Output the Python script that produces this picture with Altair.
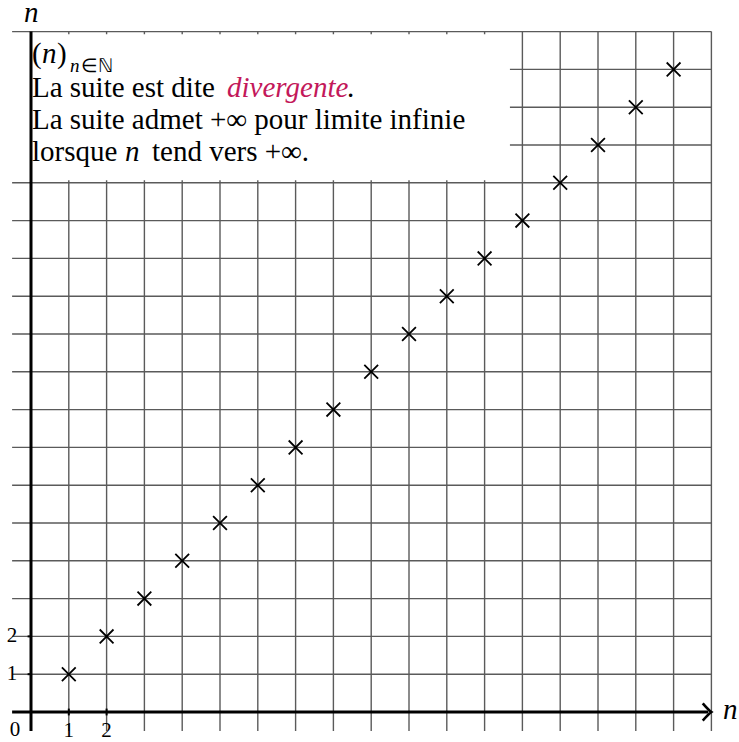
import altair as alt
import pandas as pd

# Terms of the sequence u_n = n
n_values = [1, 2, 3, 4, 5, 6, 7, 8, 9, 10, 11, 12, 13, 14, 15, 16, 17]
u_values = [1, 2, 3, 4, 5, 6, 7, 8, 9, 10, 11, 12, 13, 14, 15, 16, 17]

# Grid lines and graduated ticks
grid_cols = list(range(1, 19))
grid_rows = list(range(1, 19))
tick_values = [1, 2]
tick_labels = ["1", "2"]

# Geometry of the figure (one grid unit in pixels, origin offset)
W, H = 739, 742
UNIT = 37.8
OX, OY = 31, 712
X_MIN, X_MAX = -OX / UNIT, (W - OX) / UNIT
Y_MIN, Y_MAX = (OY - H) / UNIT, OY / UNIT
GRID_LO, GRID_HI = -0.5, 18

SERIF = "Liberation Serif"
TXT = 29
TICK_TXT = 21
GRID_COLOR = "#5a5a5a"
ACCENT = "#c3185a"


def gx(px):
    return (px - OX) / UNIT


def gy(py):
    return (OY - py) / UNIT


xs = alt.Scale(domain=[X_MIN, X_MAX], nice=False, zero=False)
ys = alt.Scale(domain=[Y_MIN, Y_MAX], nice=False, zero=False)


def X(field="x"):
    return alt.X(f"{field}:Q", scale=xs, axis=None)


def Y(field="y"):
    return alt.Y(f"{field}:Q", scale=ys, axis=None)


# --- grid -----------------------------------------------------------------
vgrid = pd.DataFrame({"x": grid_cols, "y": GRID_LO, "y2": GRID_HI})
hgrid = pd.DataFrame({"y": grid_rows, "x": GRID_LO, "x2": GRID_HI})

vlines = alt.Chart(vgrid).mark_rule(color=GRID_COLOR, strokeWidth=1.4).encode(
    x=X(), y=Y(), y2="y2:Q")
hlines = alt.Chart(hgrid).mark_rule(color=GRID_COLOR, strokeWidth=1.4).encode(
    y=Y(), x=X(), x2="x2:Q")

# --- white caption panel over the upper-left part of the grid --------------
panel = alt.Chart(pd.DataFrame({
    "x": [-0.6], "x2": [12.67], "y": [14.07], "y2": [17.93]
})).mark_rect(color="white").encode(x=X(), x2="x2:Q", y=Y(), y2="y2:Q")

# --- axes -------------------------------------------------------------------
axes_df = pd.DataFrame({
    "x": [GRID_LO, 0], "x2": [GRID_HI - 0.08, 0],
    "y": [0, GRID_LO], "y2": [0, GRID_HI],
})
axes = alt.Chart(axes_df).mark_rule(color="black", strokeWidth=3).encode(
    x=X(), x2="x2:Q", y=Y(), y2="y2:Q")

arrow = alt.Chart(pd.DataFrame({"x": [GRID_HI], "y": [0]})).mark_point(
    shape="M -1 -1 Q -0.35 -0.25 0 0 Q -0.35 0.25 -1 1",
    filled=False, stroke="black", strokeWidth=2.6, size=300, opacity=1,
).encode(x=X(), y=Y())

xticks = alt.Chart(pd.DataFrame({"x": tick_values, "y": 0.09, "y2": -0.09})).mark_rule(
    color="black", strokeWidth=2).encode(x=X(), y=Y(), y2="y2:Q")
yticks = alt.Chart(pd.DataFrame({"y": tick_values, "x": -0.09, "x2": 0})).mark_rule(
    color="black", strokeWidth=2).encode(y=Y(), x=X(), x2="x2:Q")

xlab = alt.Chart(pd.DataFrame({"x": tick_values, "label": tick_labels})).mark_text(
    font=SERIF, fontSize=TICK_TXT, baseline="alphabetic", align="center", color="black"
).encode(x=X(), y=alt.value(737), text="label:N")
ylab = alt.Chart(pd.DataFrame({"y": tick_values, "label": tick_labels})).mark_text(
    font=SERIF, fontSize=TICK_TXT, baseline="middle", align="center", color="black"
).encode(x=alt.value(12), y=Y(), text="label:N")
zero_lab = alt.Chart(pd.DataFrame({"label": ["0"]})).mark_text(
    font=SERIF, fontSize=TICK_TXT, baseline="alphabetic", align="center", color="black"
).encode(x=alt.value(15), y=alt.value(736), text="label:N")

axis_names = alt.Chart(pd.DataFrame({
    "x": [gx(24), gx(723)], "y": [gy(22), gy(719)], "label": ["n", "n"]
})).mark_text(font=SERIF, fontSize=TXT, fontStyle="italic", align="left",
              baseline="alphabetic", color="black").encode(x=X(), y=Y(), text="label:N")

# --- terms of the sequence ------------------------------------------------
terms = alt.Chart(pd.DataFrame({"n": n_values, "u": u_values})).mark_point(
    shape="M -1 -1 L 1 1 M -1 1 L 1 -1", filled=False, stroke="black",
    strokeWidth=1.8, size=190, opacity=1,
).encode(x=X("n"), y=Y("u"))

# --- caption text -----------------------------------------------------------
roman = pd.DataFrame({
    "x": [gx(32), gx(57), gx(32), gx(347), gx(32), gx(32), gx(152)],
    "y": [gy(63), gy(63), gy(97), gy(97), gy(129), gy(161), gy(161)],
    "label": ["(", ")", "La suite est dite", ".",
              "La suite admet +∞ pour limite infinie", "lorsque", "tend vers +∞."],
})
italic = pd.DataFrame({
    "x": [gx(42), gx(227), gx(125)],
    "y": [gy(63), gy(97), gy(161)],
    "label": ["n", "divergente", "n"],
    "color": ["black", ACCENT, "black"],
})
sub_italic = pd.DataFrame({"x": [gx(70)], "y": [gy(72)], "label": ["n"]})
sub_roman = pd.DataFrame({"x": [gx(81)], "y": [gy(72)], "label": ["∈ℕ"]})

roman_txt = alt.Chart(roman).mark_text(
    font=SERIF, fontSize=TXT, align="left", baseline="alphabetic", color="black"
).encode(x=X(), y=Y(), text="label:N")
italic_txt = alt.Chart(italic).mark_text(
    font=SERIF, fontSize=TXT, fontStyle="italic", align="left", baseline="alphabetic"
).encode(x=X(), y=Y(), text="label:N", color=alt.Color("color:N", scale=None))
sub_i = alt.Chart(sub_italic).mark_text(
    font=SERIF, fontSize=19, fontStyle="italic", align="left", baseline="alphabetic",
    color="black").encode(x=X(), y=Y(), text="label:N")
sub_r = alt.Chart(sub_roman).mark_text(
    font=SERIF, fontSize=19, align="left", baseline="alphabetic",
    color="black").encode(x=X(), y=Y(), text="label:N")

chart = alt.layer(
    vlines, hlines, panel, axes, arrow, xticks, yticks, terms,
    xlab, ylab, zero_lab, axis_names, roman_txt, italic_txt, sub_i, sub_r,
).properties(
    width=W, height=H, padding=0, autosize=alt.AutoSizeParams(type="none"),
    background="white",
).configure_view(stroke=None)

chart.save("out.html", embed_options={"renderer": "svg", "actions": False})
